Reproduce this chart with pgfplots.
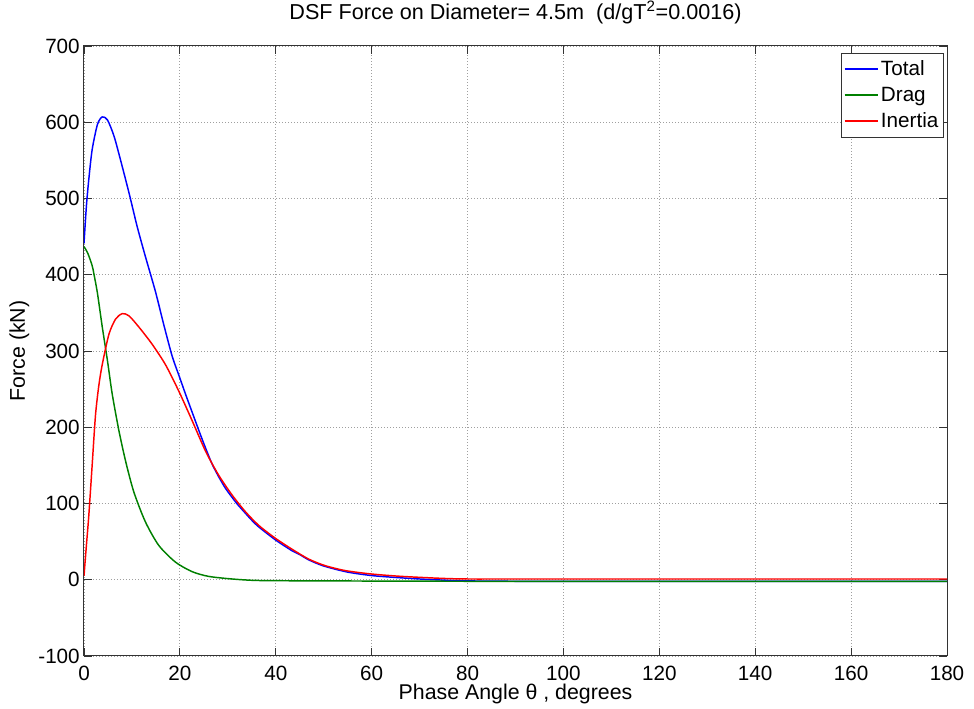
\documentclass[border=0pt]{standalone}
\usepackage{pgfplots}
\pgfplotsset{compat=1.18}
\usepackage{fontspec}
\setmainfont{Liberation Sans}
\definecolor{mgreen}{rgb}{0,0.5,0}
\begin{document}
\begin{tikzpicture}
\path[use as bounding box] (-63pt,-39.75pt) rectangle (667.5pt,492pt);
\begin{axis}[
  at={(0,0)}, anchor=south west,
  scale only axis, width=647.25pt, height=457.5pt,
  xmin=0, xmax=180, ymin=-100, ymax=700,
  xtick distance=20, ytick distance=100,
  grid=major,
  major grid style={gray!75, line width=0.6pt, dash pattern=on 0.75pt off 1.5pt},
  axis line style={black!80, line width=0.75pt},
  tick align=inside, major tick length=6pt,
  tick style={black!80, line width=0.6pt},
  /pgf/number format/assume math mode=true,
  ticklabel style={font=\fontsize{15.5}{19}\selectfont},
  xticklabel style={anchor=base, yshift=-18.3pt, inner sep=0pt},
  yticklabel style={anchor=east, inner sep=0pt, xshift=-3pt},
  title={DSF Force on Diameter= 4.5m\ \ (d/gT\textsuperscript{2}=0.0016)},
  title style={at={(axis description cs:0.5,1)}, anchor=base, yshift=13.5pt, font=\fontsize{16.2}{19}\selectfont},
  xlabel={Phase Angle θ , degrees},
  xlabel style={at={(axis description cs:0.5,0)}, anchor=base, yshift=-33pt, inner sep=0pt, font=\fontsize{16}{19}\selectfont},
  ylabel={Force (kN)},
  ylabel style={at={(axis description cs:-0.0748,0.5)}, anchor=center, inner sep=0pt, font=\fontsize{16}{19}\selectfont},
  legend style={at={(axis description cs:0.9965,0.9885)}, anchor=north east,
    draw=black!80, font=\fontsize{15.5}{19}\selectfont,
    inner xsep=2pt, inner ysep=3.5pt, row sep=3pt, cells={anchor=west}},
  legend cell align=left,
]
\addlegendimage{legend image code/.code={\draw[blue, line width=1.1pt] (0pt,0pt) -- (24.75pt,0pt);}}
\addlegendentry{Total}
\addlegendimage{legend image code/.code={\draw[mgreen, line width=1.1pt] (0pt,0pt) -- (24.75pt,0pt);}}
\addlegendentry{Drag}
\addlegendimage{legend image code/.code={\draw[red, line width=1.1pt] (0pt,0pt) -- (24.75pt,0pt);}}
\addlegendentry{Inertia}
\addplot[forget plot, blue, line width=1.1pt, smooth, tension=0.45] coordinates {
(0,441) (0.5,490) (1,525) (1.7,564) (2.8,597) (3.8,607) (4.9,603) (6.25,582)
(7.6,551) (9.4,507) (11.1,463) (12.8,424) (14.9,378) (16.7,333) (18.4,293)
(19.8,268) (21.2,243) (22.6,219) (24,195) (25.4,172) (26.7,152) (28.1,135) (29.5,120)
(30.9,108) (32,99) (33.7,87) (35,78) (36.5,69) (40,52) (43.4,38) (45,33) (46.9,26)
(50,18) (55,10) (60,5.5) (65,3) (70,1) (75,-0.5) (80,-1.5) (90,-2) (100,-2) (120,-2) (140,-2) (160,-2) (180,-2)
};
\addplot[forget plot, mgreen, line width=1.1pt, smooth, tension=0.45] coordinates {
(0,437) (0.8,428) (1.7,412) (2.1,400) (2.8,376) (3.8,332) (4.9,287) (5.9,243)
(7.3,195) (8.7,155) (10.4,115) (12.8,76) (15.6,45) (19.1,23) (22.6,10.5) (26,4.4)
(30.9,1) (36.5,-1) (50,-1.5) (80,-2) (120,-2) (180,-2)
};
\addplot[forget plot, red, line width=1.1pt, smooth, tension=0.45] coordinates {
(0,5) (0.5,45) (1,84) (1.7,150) (2.4,216) (3.1,255) (3.8,282) (5.2,322) (6.6,342)
(8,349) (9.4,346) (11.5,331) (14.2,309) (17,282) (19.8,247) (22.6,208) (25.4,168)
(28.1,137) (30.9,111) (33.7,89) (36.5,71) (40,54) (43.4,40) (46.9,27) (50.3,18.5)
(54.5,12) (60,7.5) (66.3,4.4) (74.7,1.8) (80,1) (90,1) (120,1) (150,1) (180,1)
};
\end{axis}
\end{tikzpicture}
\end{document}
